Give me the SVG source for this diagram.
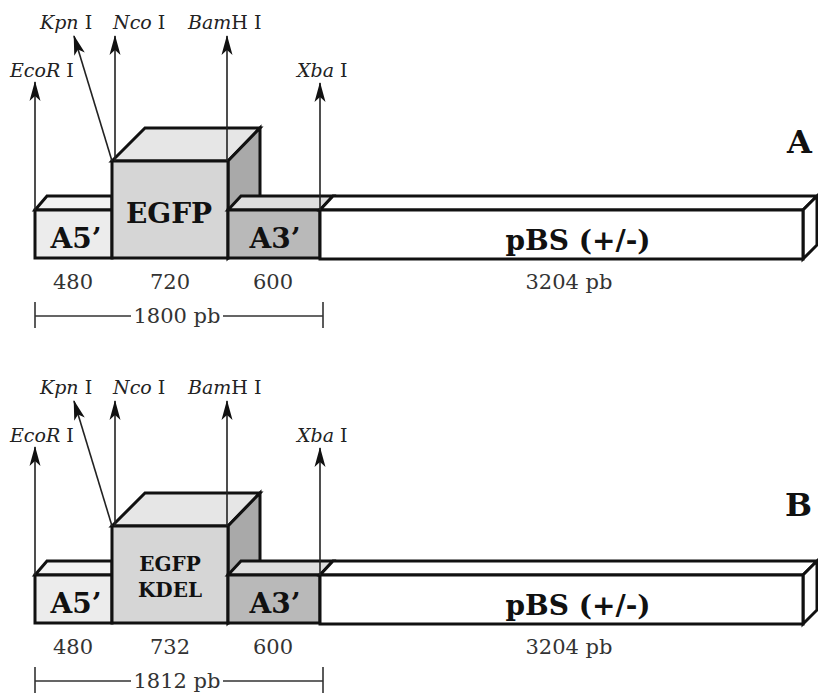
<svg xmlns="http://www.w3.org/2000/svg" width="818" height="694" viewBox="0 0 818 694">
<style>
.box{stroke:#111;stroke-width:3;stroke-linejoin:miter}
.f1{fill:#ececec}.t1{fill:#f2f2f2}
.f2{fill:#d6d6d6}.t2{fill:#e6e6e6}.s2{fill:#a9a9a9}
.f3{fill:#b9b9b9}.t3{fill:#dedede}
.f4{fill:#fff}
.lbl{font-family:"DejaVu Serif","Liberation Serif",serif;font-weight:bold;fill:#111;text-anchor:middle}
.big{font-size:28px}
.sm{font-size:20px}
.site{font-family:"DejaVu Serif","Liberation Serif",serif;font-size:19px;fill:#222}
.site .i{font-style:italic}
.num{font-family:"DejaVu Serif","Liberation Serif",serif;font-size:21px;fill:#333;text-anchor:middle}
.panel{font-family:"DejaVu Serif","Liberation Serif",serif;font-weight:bold;font-size:32px;fill:#111}
.arr{stroke:#222;stroke-width:1.6;fill:none}
.dim{stroke:#333;stroke-width:1.6;fill:none}
</style>
<defs>
<marker id="ah" markerUnits="userSpaceOnUse" markerWidth="24" markerHeight="14" viewBox="-21 -7 23 14" refX="0" refY="0" orient="auto">
<path d="M1,0 L-19,-5.5 L-14,0 L-19,5.5 Z" fill="#111"/>
</marker>
</defs>

<!-- Panel A -->
<g id="a-A5">
<polygon class="box t1" points="35,210 47,196 112,196 112,210"/>
<rect class="box f1" x="35" y="210" width="77" height="48"/>
<text class="lbl big" x="76" y="248">A5’</text>
</g>
<g id="a-EGFP">
<polygon class="box t2" points="112,161 145,128 260,128 228,161"/>
<polygon class="box s2" points="228,161 260,128 260,226 228,258"/>
<rect class="box f2" x="112" y="161" width="116" height="97"/>
<text class="lbl big" x="169" y="223">EGFP</text>
</g>
<g id="a-A3">
<polygon class="box t3" points="228,210 241,196 333,196 320,210"/>
<rect class="box f3" x="228" y="210" width="92" height="48"/>
<text class="lbl big" x="275" y="248">A3’</text>
</g>
<g id="a-pBS">
<polygon class="box f4" points="320,210 333,196 817,196 803,210"/>
<polygon class="box f4" points="803,210 817,196 817,245 803,259"/>
<rect class="box f4" x="320" y="210" width="483" height="49"/>
<text class="lbl big" x="578" y="250">pBS (+/-)</text>
</g>
<g id="a-sites">
<text class="site" x="10" y="77"><tspan class="i">EcoR</tspan> I</text>
<text class="site" x="40" y="29"><tspan class="i">Kpn</tspan> I</text>
<text class="site" x="113" y="29"><tspan class="i">Nco</tspan> I</text>
<text class="site" x="188" y="29"><tspan class="i">Bam</tspan>H I</text>
<text class="site" x="297" y="77"><tspan class="i">Xba</tspan> I</text>
</g>
<g id="a-sizes">
<text class="num" x="73" y="289">480</text>
<text class="num" x="170" y="289">720</text>
<text class="num" x="273" y="289">600</text>
<text class="num" x="569" y="289">3204 pb</text>
<text class="num" x="177" y="323">1800 pb</text>
</g>
<text class="panel" x="787" y="153">A</text>

<!-- Panel B -->
<g id="b-A5">
<polygon class="box t1" points="35,575 47,561 112,561 112,575"/>
<rect class="box f1" x="35" y="575" width="77" height="48"/>
<text class="lbl big" x="76" y="613">A5’</text>
</g>
<g id="b-EGFP">
<polygon class="box t2" points="112,526 145,493 260,493 228,526"/>
<polygon class="box s2" points="228,526 260,493 260,591 228,623"/>
<rect class="box f2" x="112" y="526" width="116" height="97"/>
<text class="lbl sm" x="170" y="571">EGFP</text>
<text class="lbl sm" x="170" y="597">KDEL</text>
</g>
<g id="b-A3">
<polygon class="box t3" points="228,575 241,561 333,561 320,575"/>
<rect class="box f3" x="228" y="575" width="92" height="48"/>
<text class="lbl big" x="275" y="613">A3’</text>
</g>
<g id="b-pBS">
<polygon class="box f4" points="320,575 333,561 817,561 803,575"/>
<polygon class="box f4" points="803,575 817,561 817,610 803,624"/>
<rect class="box f4" x="320" y="575" width="483" height="49"/>
<text class="lbl big" x="578" y="615">pBS (+/-)</text>
</g>
<g id="b-sites">
<text class="site" x="10" y="442"><tspan class="i">EcoR</tspan> I</text>
<text class="site" x="40" y="394"><tspan class="i">Kpn</tspan> I</text>
<text class="site" x="113" y="394"><tspan class="i">Nco</tspan> I</text>
<text class="site" x="188" y="394"><tspan class="i">Bam</tspan>H I</text>
<text class="site" x="297" y="442"><tspan class="i">Xba</tspan> I</text>
</g>
<g id="b-sizes">
<text class="num" x="73" y="654">480</text>
<text class="num" x="170" y="654">732</text>
<text class="num" x="273" y="654">600</text>
<text class="num" x="569" y="654">3204 pb</text>
<text class="num" x="177" y="688">1812 pb</text>
</g>
<text class="panel" x="785" y="516">B</text>

<g id="connectors">
<line class="arr" x1="35" y1="210" x2="35" y2="82" marker-end="url(#ah)"/>
<line class="arr" x1="112" y1="161" x2="74" y2="36" marker-end="url(#ah)"/>
<line class="arr" x1="115" y1="161" x2="115" y2="36" marker-end="url(#ah)"/>
<line class="arr" x1="227" y1="161" x2="227" y2="36" marker-end="url(#ah)"/>
<line class="arr" x1="320" y1="210" x2="320" y2="83" marker-end="url(#ah)"/>
<path class="dim" d="M35,302 V328 M323,302 V328 M35,316 H131 M223,316 H323"/>

<line class="arr" x1="35" y1="575" x2="35" y2="447" marker-end="url(#ah)"/>
<line class="arr" x1="112" y1="526" x2="74" y2="401" marker-end="url(#ah)"/>
<line class="arr" x1="115" y1="526" x2="115" y2="401" marker-end="url(#ah)"/>
<line class="arr" x1="227" y1="526" x2="227" y2="401" marker-end="url(#ah)"/>
<line class="arr" x1="320" y1="575" x2="320" y2="448" marker-end="url(#ah)"/>
<path class="dim" d="M35,667 V693 M323,667 V693 M35,681 H131 M223,681 H323"/>
</g>
</svg>
